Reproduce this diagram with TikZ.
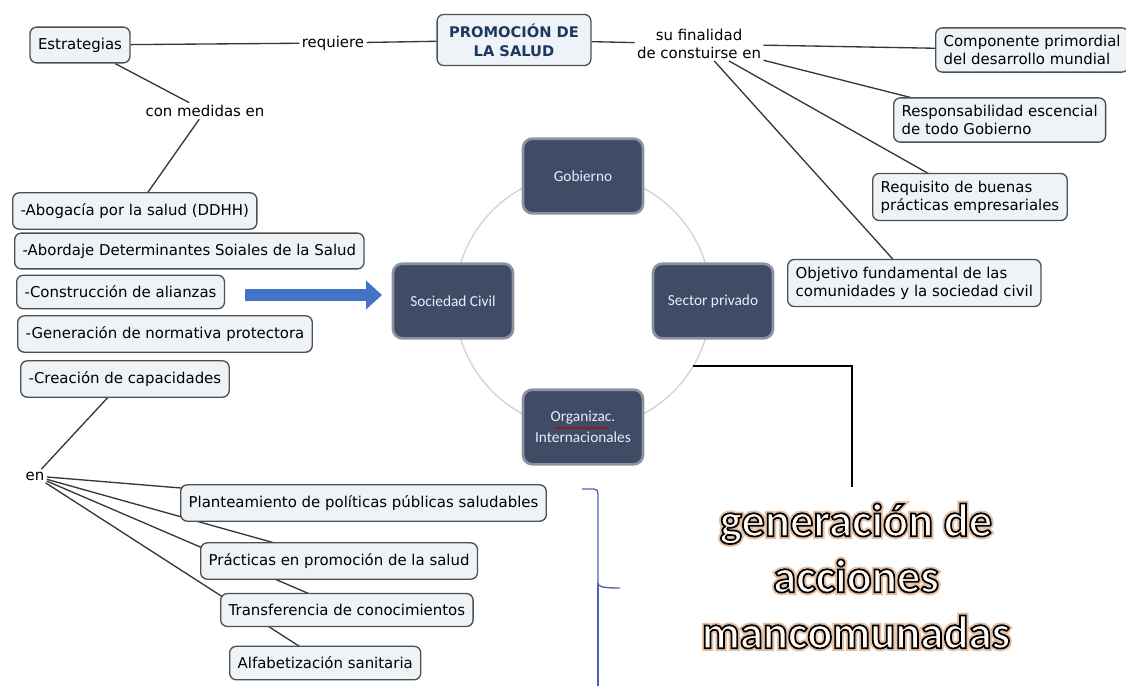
\documentclass[tikz,border=0pt]{standalone}
\usepackage{fontspec}
\setmainfont{DejaVu Sans}
\newfontfamily\carlito{Carlito}
\usetikzlibrary{arrows.meta,calc,decorations.pathmorphing}
\pgfdeclarelayer{bg}
\pgfsetlayers{bg,main}
\definecolor{boxfill}{RGB}{237,243,246}
\definecolor{boxline}{RGB}{80,80,80}
\definecolor{rolefill}{RGB}{62,76,102}
\definecolor{roleline}{RGB}{140,146,158}
\definecolor{titleblue}{RGB}{28,56,95}
\definecolor{arrowblue}{RGB}{68,114,196}
\definecolor{bracketblue}{RGB}{78,98,178}

% outlined lettering (stroke + fill), and its soft halo
\newcommand{\rimtext}[1]{\special{pdf:literal direct 2 Tr 1.3 w 0 0 0 RG 1 0.98 0.96 rg}#1\special{pdf:literal direct 0 Tr}}
\newcommand{\halotext}[1]{\special{pdf:literal direct 1 Tr 4.2 w 0.9 0.76 0.65 RG}#1\special{pdf:literal direct 0 Tr}}

\tikzset{every picture/.style={line width=0.75pt},
  mapbox/.style={draw=boxline, fill=boxfill, rounded corners=5pt, line width=1pt, inner xsep=6pt, inner ysep=8pt, font=\fontsize{11.2}{13.5}\selectfont, align=left},
  twoline/.style={inner ysep=5.5pt},
  rolebox/.style={draw=roleline, fill=rolefill, rounded corners=7pt, line width=2pt, minimum width=90pt, minimum height=56pt, text=white!92!blue, font=\carlito\fontsize{11.5}{16}\selectfont, align=center},
  linklabel/.style={fill=white, inner sep=1.5pt, font=\fontsize{11.2}{13}\selectfont, align=center},
  maplink/.style={draw={rgb,255:red,55;green,55;blue,55}, line width=1pt},
  bigword/.style={inner sep=0pt, align=center, font=\carlito\bfseries\fontsize{35}{42}\selectfont},
}

\begin{document}
\begin{tikzpicture}[x=0.75pt,y=0.75pt,yscale=-1,xscale=1]
\useasboundingbox (0,0) rectangle (1126,685);

% concept map, top row
\node[mapbox] (estr) at (80,45) {Estrategias};
\node[linklabel] (req) at (333,43) {requiere};
\node[mapbox, twoline, font=\bfseries\fontsize{11}{14}\selectfont, text=titleblue, align=center, inner xsep=9pt, inner ysep=7pt] (promo) at (514,40) {PROMOCIÓN DE\\LA SALUD};
\node[linklabel] (fin) at (699,44) {su finalidad\\de constuirse en};

% aims on the right
\node[mapbox, twoline, anchor=west] (comp) at (935,50) {Componente primordial\\del desarrollo mundial};
\node[mapbox, twoline, anchor=west] (resp) at (893,120) {Responsabilidad escencial\\de todo Gobierno};
\node[mapbox, twoline, anchor=west] (requi) at (872,197) {Requisito de buenas\\prácticas empresariales};
\node[mapbox, twoline, anchor=west] (obj) at (787,283) {Objetivo fundamental de las\\comunidades y la sociedad civil};

% measures on the left
\node[linklabel] (conm) at (205,111) {con medidas en};
\node[mapbox, anchor=west] (abog) at (12,211) {-Abogacía por la salud (DDHH)};
\node[mapbox, anchor=west] (abord) at (14,251) {-Abordaje Determinantes Soiales de la Salud};
\node[mapbox, anchor=west] (constr) at (16,292) {-Construcción de alianzas};
\node[mapbox, anchor=west] (gener) at (17,334) {-Generación de normativa protectora};
\node[mapbox, anchor=west] (creac) at (20,379) {-Creación de capacidades};

\node[linklabel] (en) at (35,476) {en};
\node[mapbox, anchor=west] (plant) at (180,503) {Planteamiento de políticas públicas saludables};
\node[mapbox, anchor=west] (prac) at (200,561) {Prácticas en promoción de la salud};
\node[mapbox, anchor=west] (transf) at (220,610) {Transferencia de conocimientos};
\node[mapbox, anchor=west] (alfab) at (229,663) {Alfabetización sanitaria};

% actors on the circle
\coordinate (hub) at (583,301);
\draw[gray!35, line width=1pt] (hub) circle [radius=128];
\node[rolebox] (gob) at (583,176) {Gobierno};
\node[rolebox] (soc) at (453,301) {Sociedad Civil};
\node[rolebox] (priv) at (713,301) {Sector privado};
\node[rolebox] (org) at (583,427) {Organizac.\\Internacionales};
\draw[red!75!black, line width=0.6pt, decorate, decoration={snake, amplitude=0.6pt, segment length=3pt}] ($(org.center)+(-28,1)$) -- ($(org.center)+(26,1)$);

% connectors
\begin{pgfonlayer}{bg}
\draw[maplink] (estr) -- (req) -- (promo);
\draw[maplink] (promo) -- (fin);
\draw[maplink] (fin) -- (comp.center);
\draw[maplink] (fin) -- (resp.center);
\draw[maplink] (fin) -- (requi.center);
\draw[maplink] (fin) -- (obj.center);
\draw[maplink] (estr) -- (conm);
\draw[maplink] (conm) -- (abog.center);
\draw[maplink] (creac.center) -- (en);
\draw[maplink] (en) -- (plant.center);
\draw[maplink] (en) -- (prac.center);
\draw[maplink] (en) -- (transf.center);
\draw[maplink] (en) -- (alfab.center);
\end{pgfonlayer}

% block arrow towards the actors
\coordinate (arrS) at (245,295);
\coordinate (arrE) at (382,295);
\draw[arrowblue, line width=9pt, -{Triangle[length=12pt,width=21pt]}] (arrS) -- (arrE);

% elbow and bracket
\coordinate (elbA) at (693,366);
\coordinate (elbB) at (852,366);
\coordinate (elbC) at (852,487);
\draw[black, line width=2.2pt] (elbA) -- (elbB) -- (elbC);
\coordinate (brT) at (582,489);
\coordinate (brM) at (598,583);
\coordinate (brB) at (598,690);
\draw[bracketblue, line width=1pt] (brT) -- (594,489) .. controls (597,489) and (598,491) .. (598,494) -- (brM) .. controls (598,586) and (600,588) .. (620,588);
\draw[bracketblue, line width=1pt] (brM) -- (brB);

% outlined words
\coordinate (acc) at (856,576);
\node[bigword] (halo) at (acc) {\halotext{generación de\\acciones\\mancomunadas}};
\node[bigword] (words) at (acc) {\rimtext{generación de\\acciones\\mancomunadas}};
\end{tikzpicture}
\end{document}
